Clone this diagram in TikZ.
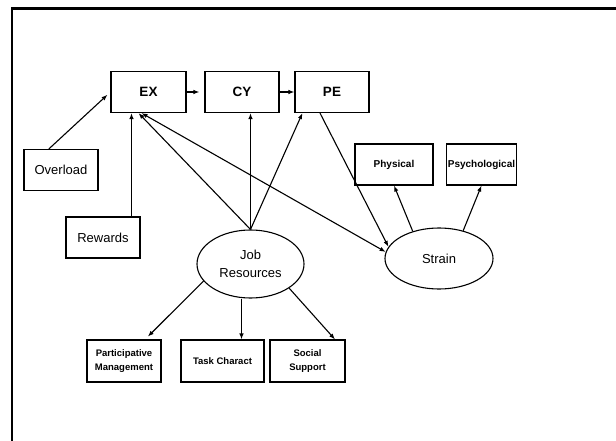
\documentclass[tikz,border=0pt]{standalone}
\usepackage{fontspec}
\setmainfont{Liberation Sans}
\usetikzlibrary{arrows.meta,shapes.geometric}
\begin{document}
\begin{tikzpicture}[x=1pt,y=-1pt,
  box/.style={draw,line width=1.1pt,minimum height=41pt,inner sep=0pt,align=center},
  oval/.style={draw,ellipse,line width=1.1pt,inner sep=0pt,align=center,font=\fontsize{13}{18}\selectfont},
  big/.style={font=\fontsize{13}{16}\selectfont},
  head/.style={font=\bfseries\fontsize{13.5}{16}\selectfont},
  small/.style={font=\bfseries\fontsize{9.5}{13.5}\selectfont},
  mid/.style={font=\bfseries\fontsize{10}{12}\selectfont},
  arr/.style={line width=1.1pt,-{Latex[length=6pt,width=4.5pt]}},
  arrb/.style={line width=1.1pt,{Latex[length=6pt,width=4.5pt]}-{Latex[length=6pt,width=4.5pt]}},
  frameline/.style={line width=2.5pt}]
\useasboundingbox (0,0) rectangle (616,441);
\coordinate (ftl) at (12,8.5);
\coordinate (ftr) at (616,8.5);
\coordinate (fbl) at (12,441);
\draw[frameline] (fbl) -- (ftl) -- (ftr);

\node[box,head,minimum width=75pt] (EX) at (148.5,92) {EX};
\node[box,head,minimum width=74pt] (CY) at (242,92) {CY};
\node[box,head,minimum width=74pt] (PE) at (332,92) {PE};
\node[box,big,minimum width=74pt] (OV) at (61,170) {Overload};
\node[box,big,minimum width=74pt] (RW) at (103,237.5) {Rewards};
\node[box,mid,minimum width=78pt] (PH) at (394,164.5) {Physical};
\node[box,mid,minimum width=70pt] (PS) at (481.5,164.5) {Psychological};
\node[oval,minimum width=107pt,minimum height=68pt] (JR) at (250.5,264) {Job\\Resources};
\node[oval,minimum width=108pt,minimum height=61pt] (ST) at (439,258.5) {Strain};
\node[box,small,minimum width=74pt,minimum height=42pt] (PM) at (124,361) {Participative\\Management};
\node[box,small,minimum width=83pt,minimum height=42pt] (TC) at (222.5,361) {Task Charact};
\node[box,small,minimum width=75pt,minimum height=42pt] (SS) at (307.5,361) {Social\\Support};

\draw[arr,shorten >=4pt] (OV.120) -- (EX.west);
\draw[arr] ([xshift=28.5pt]RW.north) -- ([xshift=28.5pt]RW.north |- EX.south);
\draw[arr] (JR.north) -- ([xshift=-10pt]EX.south);
\draw[arrb] ([xshift=-7pt]EX.south) -- (ST.173);
\draw[arr] (JR.north) -- (JR.north |- CY.south);
\draw[arr] (JR.north) -- ([xshift=8pt]PE.south west);
\draw[arr] ([xshift=-12pt]PE.south) -- (ST.167);
\draw[arr,shorten >=5pt] (EX.east) -- (CY.west);
\draw[arr] (CY.east) -- (PE.west);
\draw[arr] (ST.134) -- (PH.south);
\draw[arr] (ST.49) -- (PS.south);
\draw[arr,shorten >=4pt] (JR.200) -- ([xshift=21pt]PM.north);
\draw[arr] ([xshift=-9pt]JR.south) -- ([xshift=-9pt]JR.south |- TC.north);
\draw[arr] (JR.328) -- ([xshift=27.5pt]SS.north);
\end{tikzpicture}
\end{document}
